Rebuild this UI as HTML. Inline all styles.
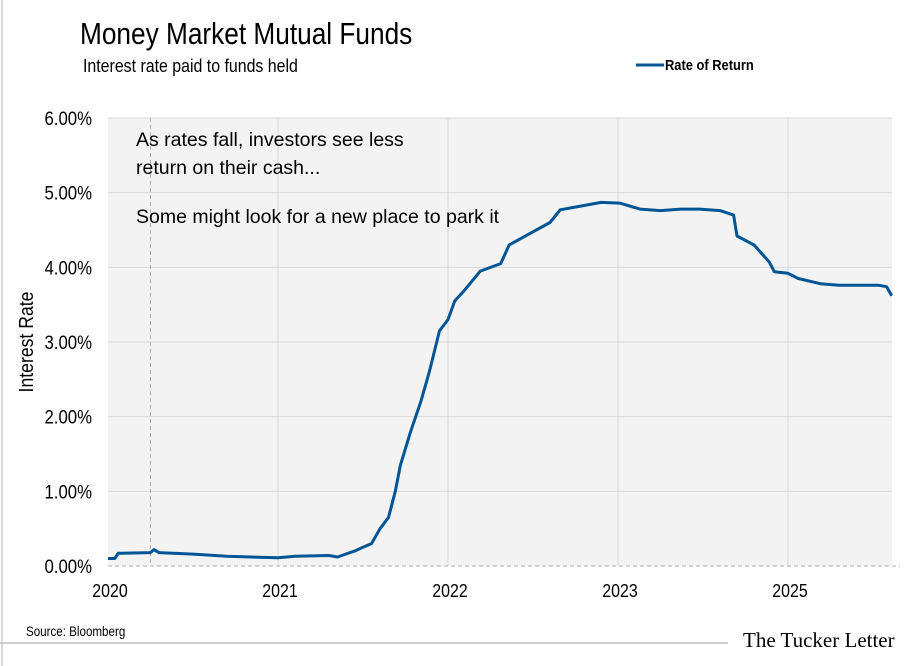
<!DOCTYPE html>
<html><head><meta charset="utf-8"><style>
html,body{margin:0;padding:0;background:#fff;}
svg{display:block;font-family:"Liberation Sans",sans-serif;}
</style></head><body>
<svg width="917" height="666" viewBox="0 0 917 666">
<line x1="2" y1="0" x2="2" y2="666" stroke="#d9d9d9" stroke-width="2"/>
<text x="80" y="44" font-size="30.5" fill="#000" transform="translate(80,0) scale(0.86,1) translate(-80,0)">Money Market Mutual Funds</text>
<text x="83" y="72" font-size="18.5" fill="#000" transform="translate(83,0) scale(0.86,1) translate(-83,0)">Interest rate paid to funds held</text>
<g>
<line x1="636" y1="65" x2="664" y2="65" stroke="#005596" stroke-width="3"/>
<text x="665" y="70" font-size="15" font-weight="bold" fill="#000" transform="translate(665,0) scale(0.86,1) translate(-665,0)">Rate of Return</text>
</g>
<rect id="plotbg" x="108" y="118" width="784" height="448" fill="#f3f3f3"/>
<g id="grid"></g>
<g id="axes"></g>
<g id="annot" font-size="19.5" fill="#000">
<text x="136" y="146">As rates fall, investors see less</text>
<text x="136" y="174">return on their cash...</text>
<text x="136" y="223">Some might look for a new place to park it</text>
</g>
<path id="line" fill="none" stroke="#005596" stroke-width="3" stroke-linejoin="round"/>
<text x="0" y="0" font-size="20.5" fill="#000" transform="translate(33,342) rotate(-90) scale(0.86,1)" text-anchor="middle">Interest Rate</text>
<text x="26" y="636" font-size="13.5" fill="#000" transform="translate(26,0) scale(0.86,1) translate(-26,0)">Source: Bloomberg</text>
<line x1="0" y1="643" x2="728" y2="643" stroke="#bfbfbf" stroke-width="1.5"/>
<text x="743" y="647" font-size="21" font-family="Liberation Serif,serif" fill="#000">The Tucker Letter</text>
</svg>
<script>
const yTicks = [0,1,2,3,4,5,6];
const yTickLabels = ["0.00%","1.00%","2.00%","3.00%","4.00%","5.00%","6.00%"];
const xTickPos = [0,1,2,3,4];
const xTickLabels = ["2020","2021","2022","2023","2025"];
const dates = [0,0.04,0.06,0.25,0.27,0.3,0.5,0.7,1.0,1.1,1.3,1.35,1.45,1.5,1.55,1.6,1.65,1.69,1.72,1.78,1.84,1.89,1.95,2.0,2.04,2.1,2.19,2.31,2.36,2.48,2.6,2.66,2.78,2.9,3.01,3.13,3.25,3.37,3.48,3.6,3.68,3.7,3.8,3.89,3.92,4.0,4.06,4.19,4.3,4.42,4.53,4.58,4.61];
const rates = [0.10,0.10,0.17,0.18,0.22,0.18,0.16,0.13,0.11,0.13,0.14,0.12,0.2,0.25,0.3,0.5,0.65,1.0,1.35,1.8,2.2,2.6,3.15,3.3,3.55,3.7,3.95,4.05,4.3,4.45,4.6,4.77,4.82,4.87,4.86,4.78,4.76,4.78,4.78,4.76,4.7,4.42,4.3,4.07,3.94,3.92,3.85,3.78,3.76,3.76,3.76,3.74,3.62];
const X0=108,X1=892,PX=170,Y0=566,PY=74.67;
const xs=v=>X0+v*PX, ys=v=>Y0-v*PY;
const NS="http://www.w3.org/2000/svg";
const grid=document.getElementById('grid'), axes=document.getElementById('axes');
function mk(tag,attrs,parent){const e=document.createElementNS(NS,tag);for(const k in attrs)e.setAttribute(k,attrs[k]);parent.appendChild(e);return e;}
yTicks.forEach((t,i)=>{
  if(t>0){const g=mk('line',{x1:X0,x2:X1,y1:ys(t),y2:ys(t),stroke:'#d9d9d9','stroke-width':1},grid);
  
  }
  const l=mk('text',{x:0,y:0,'font-size':19.5,'text-anchor':'end',transform:`translate(92,${ys(t)+7}) scale(0.86,1)`},axes);
  l.textContent=yTickLabels[i];
  
  
});
xTickPos.forEach((t,i)=>{
  if(t>0){const g=mk('line',{x1:xs(t),x2:xs(t),y1:118,y2:Y0,stroke:'#d9d9d9','stroke-width':1},grid);
  
  }
  const l=mk('text',{x:0,y:0,'font-size':18.5,'text-anchor':'middle',transform:`translate(${xs(t)+2},${Y0+31}) scale(0.86,1)`},axes);
  l.textContent=xTickLabels[i];
  
  
});
const d1=mk('line',{x1:xs(0.25),x2:xs(0.25),y1:118,y2:Y0,stroke:'#b0b0b0','stroke-width':1,'stroke-dasharray':'4,3'},grid);


const ax=mk('line',{x1:X0,x2:X1+8,y1:Y0,y2:Y0,stroke:'#b0b0b0','stroke-width':1,'stroke-dasharray':'4,3'},axes);


document.getElementById('line').setAttribute('d',dates.map((d,i)=>(i?'L':'M')+xs(d).toFixed(1)+','+ys(rates[i]).toFixed(1)).join(''));
</script>
</body></html>
